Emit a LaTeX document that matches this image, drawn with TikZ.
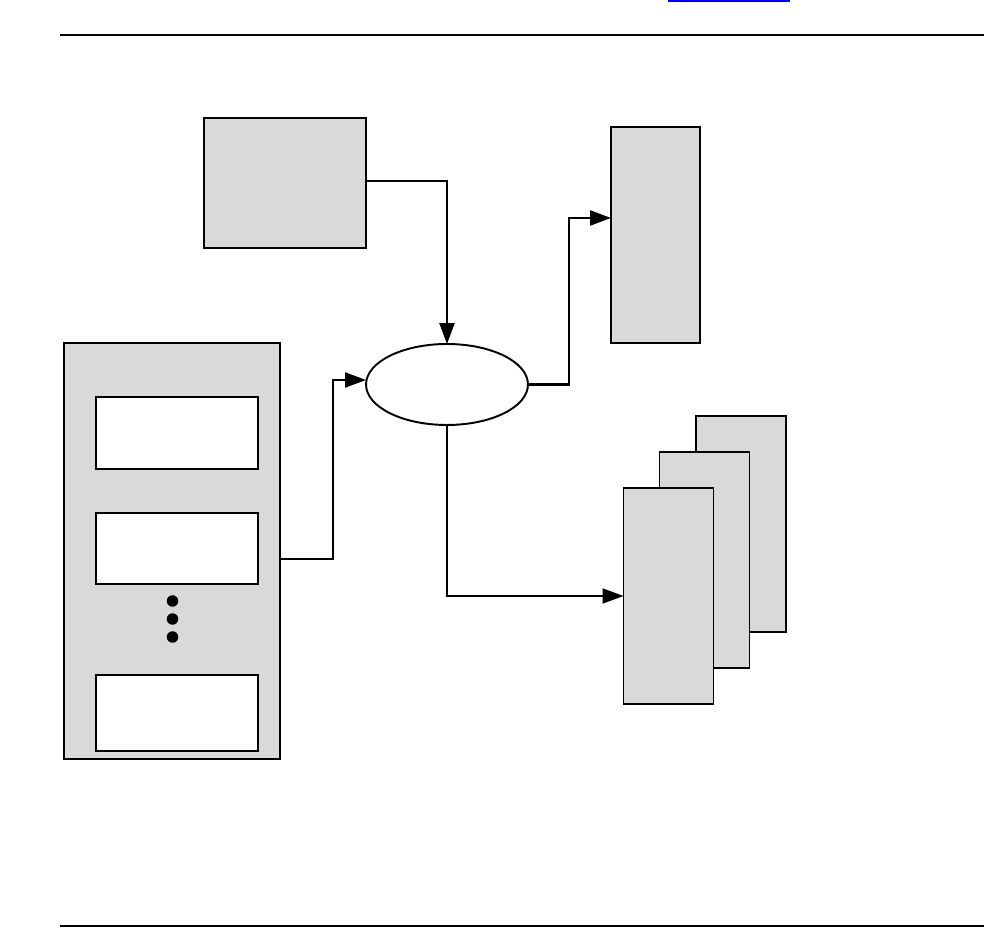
\documentclass[tikz,border=0pt]{standalone}
\usepackage{xcolor}
\usepackage{tikz}
\usetikzlibrary{arrows.meta,positioning,shapes.geometric}
\definecolor{boxgray}{HTML}{D9D9D9}
\definecolor{linkblue}{HTML}{0000FF}

\begin{document}
\begin{tikzpicture}[
  x=0.02cm,y=-0.02cm,
  box/.style={draw,fill=boxgray,line width=0.7pt,inner sep=0pt,outer sep=0pt},
  inbox/.style={draw,fill=white,line width=0.95pt,inner sep=0pt,outer sep=0pt,minimum width=3.24cm},
  proc/.style={draw,ellipse,fill=white,line width=1.1pt,inner sep=0pt,outer sep=0pt,minimum width=3.24cm,minimum height=1.62cm},
  dot/.style={circle,fill=black,inner sep=0pt,minimum size=0.23cm},
  conn/.style={->,line width=1.15pt},
  rule/.style={line width=1.15pt},
  >={Triangle[length=0.42cm,width=0.3cm]}]
  \useasboundingbox (0,0) rectangle (984,928);
  \draw[linkblue,line width=0.9pt] (668,0.8) -- (790,0.8);
  \draw[rule] (60,35) -- (984,35);
  \draw[rule] (60,926) -- (984,926);
  \node[box,minimum width=3.24cm,minimum height=2.6cm] (src) at (285,183) {};
  \node[box,minimum width=1.78cm,minimum height=4.32cm] (out) at (655.5,235) {};
  \node[proc] (proc) at (447,384.5) {};
  \node[box,line width=0.95pt,minimum width=4.32cm,minimum height=8.32cm] (lib) at (172,551) {};
  \node[inbox,minimum height=1.44cm] (in1) at (177,433) {};
  \node[inbox,minimum height=1.42cm] (in2) at (177,548.5) {};
  \node[dot] (d1) at (172.5,601) {};
  \node[dot] (d2) at (172.5,619) {};
  \node[dot] (d3) at (172.5,637) {};
  \node[inbox,minimum height=1.52cm] (in3) at (177,713) {};
  \node[box,line width=0.95pt,minimum width=1.8cm,minimum height=4.32cm] (stk3) at (741,524) {};
  \node[box,line width=0.95pt,minimum width=1.8cm,minimum height=4.32cm] (stk2) at (704.5,560) {};
  \node[box,line width=0.95pt,minimum width=1.8cm,minimum height=4.32cm] (stk1) at (668.5,596) {};
  \draw[conn,line width=1.35pt] ([yshift=0.04cm]src.east) -| (proc.north);
  \draw[conn] ([yshift=-0.16cm]lib.east) -- ++(53,0) |- ([yshift=0.09cm]proc.west);
  \draw[conn,line width=1.35pt] (proc.east) -- ++(41,0) |- ([yshift=0.34cm]out.west);
  \draw[conn] (proc.south) |- (stk1.west);
\end{tikzpicture}
\end{document}
